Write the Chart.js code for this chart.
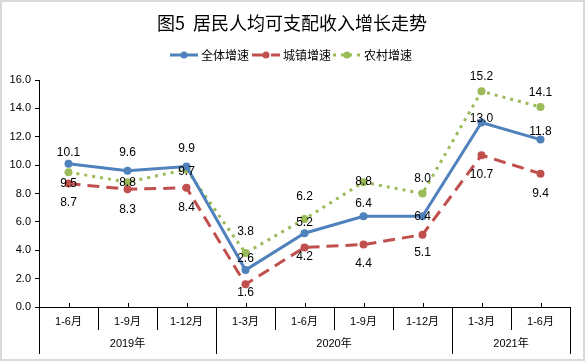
<!DOCTYPE html>
<html>
<head>
<meta charset="utf-8">
<script src="https://cdn.jsdelivr.net/npm/chart.js@4"></script>
<style>
  html, body { margin: 0; padding: 0; background: #fff; }
  #wrap { width: 585px; height: 362px; }
</style>
</head>
<body>
<div id="wrap"><canvas id="lineChart" width="585" height="362"></canvas></div>
<script>
  'use strict';

  var categories = ['1-6月', '1-9月', '1-12月', '1-3月', '1-6月', '1-9月', '1-12月', '1-3月', '1-6月'];
  var years = ['2019年', '2020年', '2021年'];
  var yearSpans = [3, 4, 2];

  var overall = [10.1, 9.6, 9.9, 2.6, 5.2, 6.4, 6.4, 13.0, 11.8];
  var urban = [8.7, 8.3, 8.4, 1.6, 4.2, 4.4, 5.1, 10.7, 9.4];
  var rural = [9.5, 8.8, 9.7, 3.8, 6.2, 8.8, 8.0, 15.2, 14.1];

  var yTicks = [0, 2, 4, 6, 8, 10, 12, 14, 16];

  // label vertical offsets (px, relative to the point) — tuned by eye
  var labelDy = [
    [-11, -18, -18, -11, -11, -13, 0, -4, -8],
    [19, 20, 20, 8, 9, 19, 18, 19, 20],
    [11, 1, 2, -21, -22, 0, -15, -15, -14]
  ];

  var FONT = '"Liberation Sans", "Noto Sans CJK SC", sans-serif';
  var CJK = '"Noto Sans CJK SC", "Liberation Sans", sans-serif';

  var extras = {
    id: 'extras',
    beforeDraw: function(chart) {
      var ctx = chart.ctx;
      ctx.save();
      ctx.fillStyle = '#fff';
      ctx.fillRect(0, 0, chart.width, chart.height);
      ctx.restore();
    },
    afterDraw: function(chart) {
      var ctx = chart.ctx;
      var area = chart.chartArea;
      var xs = chart.scales.x;
      ctx.save();

      // outer frame
      ctx.strokeStyle = '#d9d9d9';
      ctx.lineWidth = 2;
      ctx.strokeRect(1, 1, chart.width - 2, chart.height - 3);

      // title
      ctx.fillStyle = '#000';
      ctx.textAlign = 'center';
      ctx.textBaseline = 'middle';
      ctx.font = '18px ' + CJK;
      ctx.fillText('图5  居民人均可支配收入增长走势', 292, 23);

      // legend
      var items = [
        { x: 170, text: '全体增速', ds: 0 },
        { x: 252, text: '城镇增速', ds: 1 },
        { x: 333, text: '农村增速', ds: 2 }
      ];
      ctx.font = '12px ' + CJK;
      ctx.textAlign = 'left';
      items.forEach(function(it) {
        var ds = chart.data.datasets[it.ds];
        ctx.strokeStyle = ds.borderColor;
        ctx.lineWidth = 3;
        ctx.setLineDash(ds.borderDash || []);
        ctx.beginPath();
        ctx.moveTo(it.x, 55);
        ctx.lineTo(it.x + 28, 55);
        ctx.stroke();
        ctx.setLineDash([]);
        ctx.fillStyle = ds.borderColor;
        ctx.beginPath();
        ctx.arc(it.x + 14, 55, 3.5, 0, Math.PI * 2);
        ctx.fill();
        ctx.fillStyle = '#000';
        ctx.fillText(it.text, it.x + 31, 55);
      });

      // x axis
      var y0 = area.bottom;
      var step = (area.right - area.left) / categories.length;
      ctx.strokeStyle = '#000';
      ctx.lineWidth = 1;
      ctx.beginPath();
      ctx.moveTo(area.left, y0 + 0.5);
      ctx.lineTo(area.right, y0 + 0.5);
      for (var i = 0; i < categories.length; i++) {
        var cx = Math.round(xs.getPixelForValue(i)) + 0.5;
        ctx.moveTo(cx, y0);
        ctx.lineTo(cx, y0 - 4);
      }
      // separators
      var yearEdges = [0];
      yearSpans.forEach(function(s) { yearEdges.push(yearEdges[yearEdges.length - 1] + s); });
      for (var k = 0; k <= categories.length; k++) {
        var sx = Math.round(area.left + k * step) + 0.5;
        var full = yearEdges.indexOf(k) >= 0;
        ctx.moveTo(sx, y0);
        ctx.lineTo(sx, full ? 354 : 330);
      }
      ctx.stroke();

      ctx.fillStyle = '#000';
      ctx.textAlign = 'center';
      ctx.font = '11px ' + FONT;
      categories.forEach(function(c, i) {
        ctx.fillText(c, xs.getPixelForValue(i), 322);
      });
      for (var j = 0; j < years.length; j++) {
        var mid = area.left + (yearEdges[j] + yearEdges[j + 1]) / 2 * step;
        ctx.fillText(years[j], mid, 344);
      }

      // data labels
      ctx.font = '12px ' + FONT;
      chart.data.datasets.forEach(function(ds, d) {
        var meta = chart.getDatasetMeta(d);
        meta.data.forEach(function(pt, i) {
          ctx.fillText(ds.data[i].toFixed(1), pt.x, pt.y + labelDy[d][i]);
        });
      });

      ctx.restore();
    }
  };

  var lineData = {
    labels: categories,
    datasets: [{
      label: '全体增速',
      data: overall,
      borderColor: '#4F81BD',
      backgroundColor: '#4F81BD',
      borderWidth: 3,
      pointRadius: 4,
      pointBorderWidth: 0,
      pointBackgroundColor: '#4F81BD',
      tension: 0,
      order: 1
    }, {
      label: '城镇增速',
      data: urban,
      borderColor: '#C0504D',
      backgroundColor: '#C0504D',
      borderWidth: 3,
      borderDash: [12, 7],
      pointRadius: 4,
      pointBorderWidth: 0,
      pointBackgroundColor: '#C0504D',
      tension: 0,
      order: 2
    }, {
      label: '农村增速',
      data: rural,
      borderColor: '#9BBB59',
      backgroundColor: '#9BBB59',
      borderWidth: 3,
      borderDash: [3, 5],
      pointRadius: 4,
      pointBorderWidth: 0,
      pointBackgroundColor: '#9BBB59',
      tension: 0,
      order: 3
    }]
  };

  var lineOptions = {
    responsive: false,
    animation: false,
    layout: { padding: { left: 0, right: 15, top: 80, bottom: 55 } },
    plugins: {
      legend: { display: false },
      title: { display: false },
      tooltip: { enabled: false }
    },
    scales: {
      x: {
        display: false,
        offset: true
      },
      y: {
        min: 0,
        max: 16,
        afterBuildTicks: function(s) {
          s.ticks = yTicks.map(function(v) { return { value: v }; });
        },
        afterFit: function(s) { s.width = 39; },
        ticks: {
          color: '#000',
          font: { size: 11, family: FONT },
          padding: 4,
          callback: function(v) { return Number(v).toFixed(1); }
        },
        grid: {
          drawOnChartArea: false,
          drawTicks: true,
          tickLength: 4,
          color: '#000'
        },
        border: { display: true, color: '#000' }
      }
    }
  };

  var ctx = document.getElementById('lineChart').getContext('2d');
  new Chart(ctx, {
    type: 'line',
    data: lineData,
    options: lineOptions,
    plugins: [extras]
  });
</script>
</body>
</html>
